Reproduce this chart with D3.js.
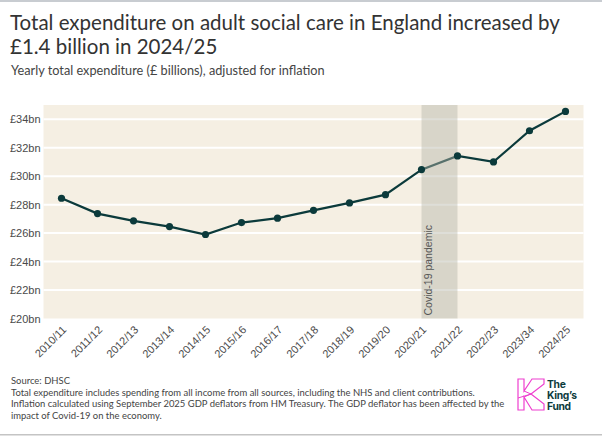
<!DOCTYPE html>
<html><head><meta charset="utf-8">
<script src="https://cdn.jsdelivr.net/npm/d3@7"></script>
<style>
html,body{margin:0;padding:0;background:#fff;}
svg{display:block;}
</style></head>
<body>
<svg id="chart" width="602" height="436"></svg>
<script>
const years = ["2010/11","2011/12","2012/13","2013/14","2014/15","2015/16","2016/17","2017/18","2018/19","2019/20","2020/21","2021/22","2022/23","2023/34","2024/25"];
const spend = [28.45,27.37,26.86,26.46,25.9,26.74,27.05,27.6,28.12,28.7,30.46,31.42,31.0,33.19,34.55];
const yTicks = [20,22,24,26,28,30,32,34];
const covidRange = ["2020/21","2021/22"];
const covidLabel = "Covid-19 pandemic";
const titleLines = ["Total expenditure on adult social care in England increased by","£1.4 billion in 2024/25"];
const subtitle = "Yearly total expenditure (£ billions), adjusted for inflation";
const footer = ["Source: DHSC",
 "Total expenditure includes spending from all income from all sources, including the NHS and client contributions.",
 "Inflation calculated using September 2025 GDP deflators from HM Treasury. The GDP deflator has been affected by the",
 "impact of Covid-19 on the economy."];
const logoLines = ["The","King’s","Fund"];

const svg = d3.select("#chart");
const W = 602, H = 436;
const plot = {left:43.5, right:583.5, top:105, bottom:318.5};

function fit(sel, target){
  const n = sel.node();
  const fs = parseFloat(sel.attr("font-size"));
  const w = n.getComputedTextLength();
  sel.attr("font-size", (fs*target/w).toFixed(2));
}

// frame lines
svg.append("rect").attr("x",0).attr("y",0).attr("width",W).attr("height",2).attr("fill","#c8ccd1");
svg.append("rect").attr("x",0).attr("y",434).attr("width",W).attr("height",1.5).attr("fill","#c4c4c4");

// title
const t1 = svg.append("text").attr("x",10).attr("y",30).attr("font-family","Lato").attr("font-size",21).attr("fill","#333").text(titleLines[0]);
fit(t1, 550);
const t2 = svg.append("text").attr("x",10).attr("y",54).attr("font-family","Lato").attr("font-size",t1.attr("font-size")).attr("fill","#333").text(titleLines[1]);
const st = svg.append("text").attr("x",11).attr("y",75).attr("font-family","Lato").attr("font-size",13).attr("fill","#444").text(subtitle);
fit(st, 314);

// scales
const x = d3.scalePoint().domain(years).range([plot.left, plot.right]).padding(0.5);
const y = d3.scaleLinear().domain([20,35]).range([plot.bottom, plot.top]);

// plot background
svg.append("rect").attr("x",plot.left).attr("y",plot.top).attr("width",plot.right-plot.left).attr("height",plot.bottom-plot.top).attr("fill","#f5efe3");

// gridlines
svg.append("g").selectAll("line").data(yTicks.filter(d=>d>20)).join("line")
  .attr("x1",plot.left).attr("x2",plot.right)
  .attr("y1",d=>y(d)).attr("y2",d=>y(d))
  .attr("stroke","#fff").attr("stroke-width",2);

// y axis
const yAxis = d3.axisLeft(y).tickValues(yTicks).tickSize(0).tickPadding(3).tickFormat(d=>"£"+d+"bn");
const gy = svg.append("g").attr("transform",`translate(${plot.left},0)`).call(yAxis);
gy.select(".domain").remove();
gy.selectAll("text").attr("font-family","Liberation Sans, Arial").attr("font-size",11).attr("fill","#4a4a4a");

// x axis
const xAxis = d3.axisBottom(x).tickSize(0).tickPadding(0);
const gx = svg.append("g").attr("transform",`translate(0,${plot.bottom})`).call(xAxis);
gx.select(".domain").remove();
gx.selectAll("text")
  .attr("font-family","Liberation Sans, Arial").attr("font-size",11).attr("fill","#4a4a4a")
  .attr("text-anchor","end").attr("dy",null).attr("y",0)
  .attr("transform","translate(5,12) rotate(-45)");

// line
const line = d3.line().x((d,i)=>x(years[i])).y(d=>y(d));
svg.append("path").datum(spend).attr("d",line).attr("fill","none").attr("stroke","#0b3a3b").attr("stroke-width",2.2);

// covid band
svg.append("rect")
  .attr("x",x(covidRange[0])).attr("y",plot.top)
  .attr("width",x(covidRange[1])-x(covidRange[0])).attr("height",plot.bottom-plot.top)
  .attr("fill","#b5b5a8").attr("opacity",0.45);

// dots
svg.append("g").selectAll("circle").data(spend).join("circle")
  .attr("cx",(d,i)=>x(years[i])).attr("cy",d=>y(d)).attr("r",3.6).attr("fill","#0b3a3b");

// covid label
svg.append("text")
  .attr("transform",`translate(${x(covidRange[0])+10},${plot.bottom-3}) rotate(-90)`)
  .attr("font-family","Liberation Sans, Arial").attr("font-size",10.5).attr("fill","#555")
  .text(covidLabel);

// footer
const fts = footer.map((s,i)=>svg.append("text").attr("x",11).attr("y",384+i*11.7).attr("font-family","Lato").attr("font-size",11).attr("fill","#444").text(s));
fit(fts[2], 494);
fts.forEach(f=>f.attr("font-size",fts[2].attr("font-size")));

// logo
const logo = svg.append("g").attr("transform","translate(518,379)");
const pink = "#ee3fcf";
logo.append("path").attr("d","M0,0 L6,0 L6,12 L14,0 L26,0 L26,5 L13,15 L26,25 L26,31 L14,31 L6,18 L6,31 L0,31 Z")
  .attr("fill","none").attr("stroke",pink).attr("stroke-width",1.2).attr("stroke-linejoin","miter");
logo.append("path").attr("d","M0,19 L13,15 M6,12 L13,15 M6,18 L13,15").attr("fill","none").attr("stroke",pink).attr("stroke-width",1);
logoLines.forEach((s,i)=>{
  svg.append("text").attr("x",547).attr("y",387.5+i*11).attr("font-family","Inter").attr("font-weight",700)
    .attr("font-size",10.3).attr("letter-spacing",-0.3).attr("fill","#0d3b3d").text(s);
});
</script>
</body></html>
